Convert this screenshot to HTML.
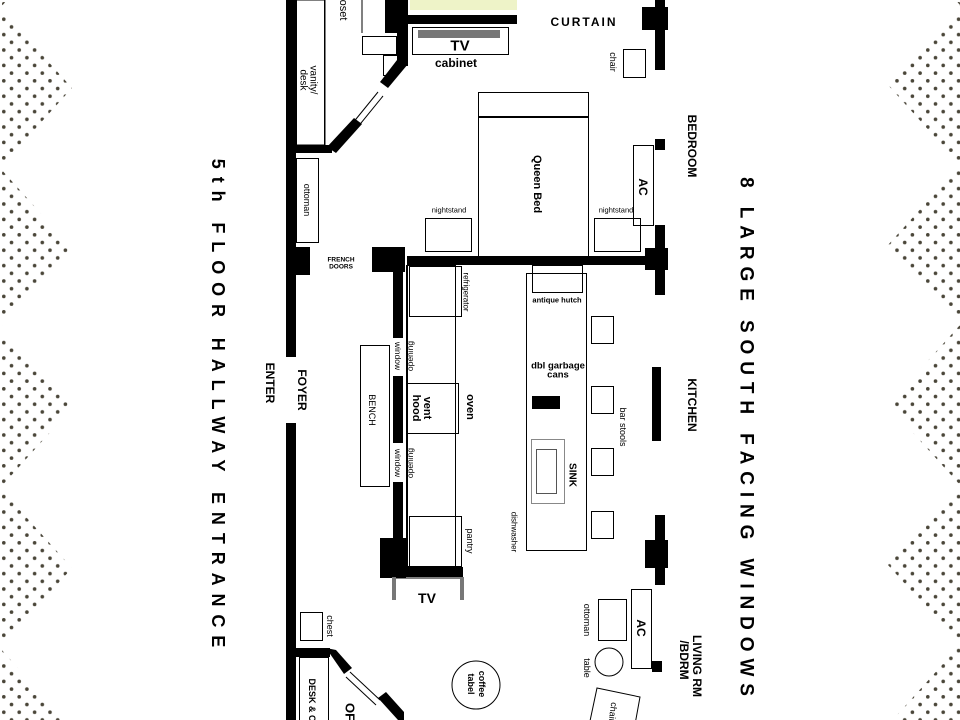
<!DOCTYPE html>
<html><head><meta charset="utf-8"><style>
html,body{margin:0;padding:0;background:#fff;width:960px;height:720px;overflow:hidden;}
svg{display:block;font-family:"Liberation Sans",sans-serif;}
.b{font-weight:bold;}
</style></head><body>
<svg width="960" height="720" viewBox="0 0 960 720" xmlns="http://www.w3.org/2000/svg">
<defs>
<pattern id="dots" x="0" y="0" width="15.4" height="15.4" patternUnits="userSpaceOnUse">
<circle cx="3.8" cy="3.8" r="1.8" fill="#4a4639"/>
<circle cx="11.5" cy="11.5" r="1.8" fill="#4a4639"/>
</pattern>
</defs>
<polygon fill="url(#dots)" points="0,-152 72,-72 0,8 72,88 0,168 72,248 0,328 72,408 0,488 72,568 0,648 72,728 0,808"/>
<polygon fill="url(#dots)" points="960,-155 888,-75 960,5 888,85 960,165 888,245 960,325 888,405 960,485 888,565 960,645 888,725 960,805"/>

<g fill="#000">
<rect x="286" y="0" width="10" height="357"/>
<rect x="286" y="423" width="10" height="297"/>
<rect x="286" y="247" width="24" height="28"/>
<rect x="385" y="0" width="23" height="33"/>
<rect x="385" y="15" width="132" height="9"/>
<rect x="397" y="24" width="11" height="42"/>
<polygon points="397,60 408,64 388,88 380,82"/>
<polygon points="354,118 362,124 336,153 327,147"/>
<rect x="296" y="145" width="36" height="8"/>
<rect x="407" y="256" width="258" height="9"/>
<rect x="372" y="247" width="33" height="25"/>
<rect x="655" y="0" width="10" height="70"/>
<rect x="642" y="7" width="26" height="23"/>
<rect x="655" y="139" width="10" height="11"/>
<rect x="655" y="225" width="10" height="70"/>
<rect x="645" y="248" width="23" height="22"/>
<rect x="652" y="367" width="9" height="74"/>
<rect x="655" y="515" width="10" height="70"/>
<rect x="645" y="540" width="23" height="28"/>
<rect x="652" y="661" width="10" height="11"/>
<rect x="393" y="272" width="10" height="66"/>
<rect x="393" y="376" width="10" height="67"/>
<rect x="393" y="482" width="10" height="58"/>
<rect x="380" y="538" width="26" height="40"/>
<rect x="380" y="567" width="83" height="10"/>
<rect x="296" y="648" width="34" height="9"/>
<polygon points="326,648 336,650 352,668 344,674"/>
<polygon points="378,698 386,692 404,712 404,720 398,720"/>
<rect x="532" y="396" width="28" height="13"/>
</g>
<rect x="410" y="0" width="107" height="10" fill="#eef3c8"/>
<g fill="none" stroke="#000" stroke-width="1">
<line x1="352" y1="124" x2="378" y2="92"/><line x1="357" y1="128" x2="383" y2="96"/>
<line x1="350" y1="672" x2="380" y2="700"/><line x1="346" y1="677" x2="376" y2="705"/>
<rect x="296.5" y="0" width="28" height="145"/>
<line x1="325" y1="0" x2="325" y2="145"/>
<line x1="362" y1="0" x2="362" y2="33"/>
<rect x="362.5" y="36.5" width="34" height="18"/>
<rect x="383.5" y="55.5" width="14" height="20"/>
<rect x="412.5" y="27.5" width="96" height="27"/>
<rect x="623.5" y="49.5" width="22" height="28"/>
<rect x="478.5" y="92.5" width="110" height="166"/>
<line x1="478" y1="117" x2="589" y2="117" stroke-width="2"/>
<rect x="425.5" y="218.5" width="46" height="33"/>
<rect x="594.5" y="218.5" width="46" height="33"/>
<rect x="633.5" y="145.5" width="20" height="80"/>
<rect x="296.5" y="158.5" width="22" height="84"/>
<line x1="406.5" y1="265" x2="406.5" y2="567"/>
<rect x="407.5" y="265.5" width="48" height="301"/>
<rect x="409.5" y="266.5" width="52" height="50"/>
<rect x="407.5" y="383.5" width="51" height="50"/>
<rect x="409.5" y="516.5" width="52" height="50"/>
<rect x="360.5" y="345.5" width="29" height="141"/>
<line x1="396" y1="578" x2="460" y2="578"/>
<rect x="526.5" y="273.5" width="60" height="277"/>
<rect x="532.5" y="265.5" width="50" height="27"/>
<rect x="531.5" y="439.5" width="33" height="64" stroke="#888"/>
<rect x="536.5" y="449.5" width="20" height="44" stroke="#555"/>
<rect x="591.5" y="316.5" width="22" height="27"/>
<rect x="591.5" y="386.5" width="22" height="27"/>
<rect x="591.5" y="448.5" width="22" height="27"/>
<rect x="591.5" y="511.5" width="22" height="27"/>
<rect x="300.5" y="612.5" width="22" height="28"/>
<rect x="299.5" y="657.5" width="29" height="70"/>
<circle cx="476" cy="685" r="24"/>
<rect x="598.5" y="599.5" width="28" height="41"/>
<circle cx="609" cy="662" r="14"/>
<rect x="631.5" y="589.5" width="20" height="79"/>
<polygon points="597,688 640,697 634,730 590,721"/>
</g>
<rect x="418" y="30" width="82" height="8" fill="#777"/>
<rect x="392" y="577" width="4" height="23" fill="#777"/>
<rect x="460" y="577" width="4" height="23" fill="#777"/>

<g fill="#000" text-anchor="middle" dominant-baseline="central">
<text x="460" y="46" class="b" font-size="15">TV</text>
<text x="456" y="63" class="b" font-size="12">cabinet</text>
<text x="584" y="22" class="b" font-size="12" letter-spacing="2">CURTAIN</text>
<text x="427" y="598" class="b" font-size="14">TV</text>
<text x="449" y="210" font-size="7.5">nightstand</text>
<text x="616" y="210" font-size="7.5">nightstand</text>
<text x="341" y="260" class="b" font-size="6.5">FRENCH</text>
<text x="341" y="267" class="b" font-size="6.5">DOORS</text>
<text x="557" y="300" class="b" font-size="7.5">antique hutch</text>
<text x="558" y="366" class="b" font-size="9.5">dbl garbage</text>
<text x="558" y="375" class="b" font-size="9.5">cans</text>
<g class="b" font-size="9">
<text transform="translate(482,684) rotate(90)">coffee</text>
<text transform="translate(471,684) rotate(90)">tabel</text>
</g>
<text transform="translate(343,10) rotate(90)" font-size="11">oset</text>
<text transform="translate(313,80) rotate(90)" font-size="10">vanity/</text>
<text transform="translate(303,80) rotate(90)" font-size="10">desk</text>
<text transform="translate(307,200) rotate(90)" font-size="9">ottoman</text>
<text transform="translate(613,62) rotate(90)" font-size="9">chair</text>
<text transform="translate(537,184) rotate(90)" class="b" font-size="11">Queen Bed</text>
<text transform="translate(643,187) rotate(90)" class="b" font-size="12">AC</text>
<text transform="translate(692,146) rotate(90)" class="b" font-size="12">BEDROOM</text>
<text transform="translate(466,292) rotate(90)" font-size="8">refrigerator</text>
<text transform="translate(398,356) rotate(90)" font-size="8.5">window</text>
<text transform="translate(410,356) rotate(-90)" font-size="8.5">opening</text>
<text transform="translate(398,463) rotate(90)" font-size="8.5">window</text>
<text transform="translate(410,463) rotate(-90)" font-size="8.5">opening</text>
<text transform="translate(372,410) rotate(90)" font-size="9">BENCH</text>
<text transform="translate(427,408) rotate(90)" class="b" font-size="11">vent</text>
<text transform="translate(416,408) rotate(90)" class="b" font-size="11">hood</text>
<text transform="translate(470,407) rotate(90)" class="b" font-size="11">oven</text>
<text transform="translate(572,475) rotate(90)" class="b" font-size="10">SINK</text>
<text transform="translate(514,532) rotate(90)" font-size="8">dishwasher</text>
<text transform="translate(470,541) rotate(90)" font-size="9">pantry</text>
<text transform="translate(623,427) rotate(90)" font-size="9">bar stools</text>
<text transform="translate(692,405) rotate(90)" class="b" font-size="12">KITCHEN</text>
<text transform="translate(302,390) rotate(90)" class="b" font-size="12">FOYER</text>
<text transform="translate(270,383) rotate(90)" class="b" font-size="12">ENTER</text>
<text transform="translate(330,626) rotate(90)" font-size="9">chest</text>
<text transform="translate(312,700) rotate(90)" class="b" font-size="9">DESK &amp; C</text>
<text transform="translate(350,712) rotate(90)" class="b" font-size="13">OF</text>
<text transform="translate(587,620) rotate(90)" font-size="9">ottoman</text>
<text transform="translate(587,668) rotate(90)" font-size="9">table</text>
<text transform="translate(641,628) rotate(90)" class="b" font-size="12">AC</text>
<text transform="translate(613,712) rotate(97)" font-size="9">chair</text>
<text transform="translate(697,666) rotate(90)" class="b" font-size="12">LIVING RM</text>
<text transform="translate(684,660) rotate(90)" class="b" font-size="12">/BDRM</text>
<text transform="translate(218,407) rotate(90)" class="b" font-size="18" letter-spacing="7.9">5th FLOOR HALLWAY ENTRANCE</text>
<text transform="translate(746,440) rotate(90)" class="b" font-size="19" letter-spacing="6.9">8 LARGE SOUTH FACING WINDOWS</text>
</g>
</svg>
</body></html>
